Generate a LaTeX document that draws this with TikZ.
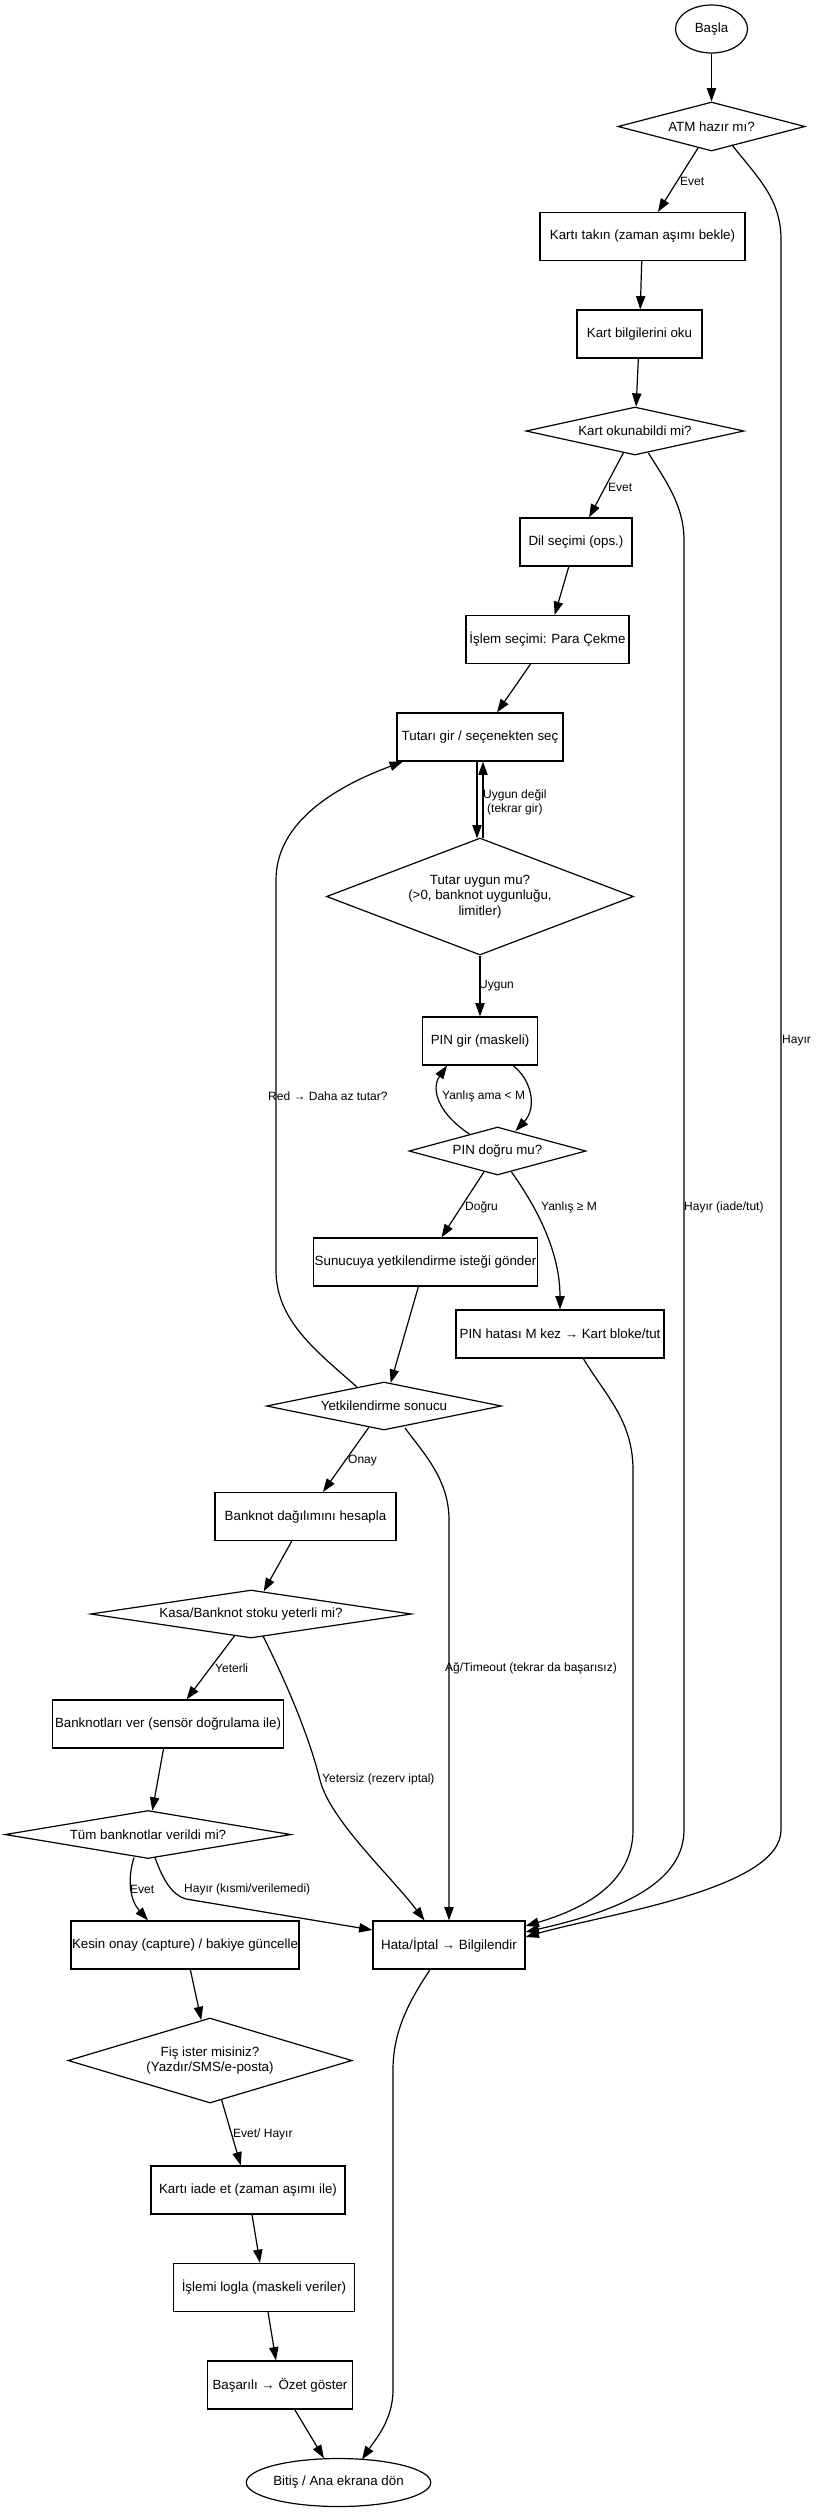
\documentclass[tikz,border=0pt]{standalone}
\usepackage{fontspec}
\setmainfont{Liberation Sans}
\usetikzlibrary{shapes.geometric,arrows.meta,calc}
\newcommand\ndfont{\fontsize{13.33}{15.5}\selectfont}
\newcommand\lbfont{\fontsize{12}{14}\selectfont}
\tikzset{
 box/.style={draw, line width=1.2pt, rectangle, inner sep=0pt, minimum height=48pt, font=\ndfont, align=center},
 dia/.style={draw, line width=1.2pt, diamond, inner sep=0pt, font=\ndfont, align=center},
 ell/.style={draw, line width=1.2pt, ellipse, inner sep=0pt, minimum height=48pt, font=\ndfont},
 arr/.style={line width=1.2pt, -{Triangle[length=13.3pt,width=9.3pt]}},
 lbl/.style={inner sep=0pt, font=\lbfont, anchor=west, align=center},
}
\begin{document}
\begin{tikzpicture}[x=1pt,y=-1pt]
\useasboundingbox (0,0) rectangle (817,2512);
% nodes
\node[ell, minimum width=72pt] (start) at (711.5,29) {Başla};
\node[dia, minimum width=187pt, minimum height=49pt, aspect=3.8] (atm) at (711.5,126.5) {ATM hazır mı?};
\node[box, minimum width=205pt] (takin) at (642.5,236.5) {Kartı takın (zaman aşımı bekle)};
\node[box, minimum width=125pt] (oku) at (639.5,334) {Kart bilgilerini oku};
\node[dia, minimum width=218pt, minimum height=48pt, aspect=4.5] (okun) at (635,431) {Kart okunabildi mi?};
\node[box, minimum width=112pt] (dil) at (576,542) {Dil seçimi (ops.)};
\node[box, minimum width=163pt] (islem) at (547.5,639.5) {İşlem seçimi: Para Çekme};
\node[box, minimum width=166pt] (tutar) at (480,737) {Tutarı gir / seçenekten seç};
\node[dia, minimum width=307pt, minimum height=117pt, aspect=2.6] (tuy) at (480,896.5) {Tutar uygun mu?\\(>0, banknot uygunluğu,\\limitler)};
\node[box, minimum width=115pt] (pin) at (480,1041) {PIN gir (maskeli)};
\node[dia, minimum width=177pt, minimum height=48pt, aspect=3.7] (pdm) at (497.5,1151) {PIN doğru mu?};
\node[box, minimum width=224pt] (sun) at (425.5,1262) {Sunucuya yetkilendirme isteği gönder};
\node[box, minimum width=208pt] (phat) at (560,1334) {PIN hatası M kez → Kart bloke/tut};
\node[dia, minimum width=235pt, minimum height=48pt, aspect=4.9] (yet) at (384,1406) {Yetkilendirme sonucu};
\node[box, minimum width=181pt] (bdh) at (305.5,1516.5) {Banknot dağılımını hesapla};
\node[dia, minimum width=321pt, minimum height=48pt, aspect=6.7] (kasa) at (251,1614) {Kasa/Banknot stoku yeterli mi?};
\node[box, minimum width=231pt] (bver) at (168,1724) {Banknotları ver (sensör doğrulama ile)};
\node[dia, minimum width=286pt, minimum height=48pt, aspect=6] (tum) at (148,1834.5) {Tüm banknotlar verildi mi?};
\node[box, minimum width=228pt] (kes) at (185,1945) {Kesin onay (capture) / bakiye güncelle};
\node[box, minimum width=152pt] (hata) at (449,1945) {Hata/İptal → Bilgilendir};
\node[dia, minimum width=284pt, minimum height=85pt, aspect=3.3] (fis) at (210,2060.5) {Fiş ister misiniz?\\(Yazdır/SMS/e-posta)};
\node[box, minimum width=194pt] (iade) at (248,2190) {Kartı iade et (zaman aşımı ile)};
\node[box, minimum width=181pt] (log) at (264,2287.5) {İşlemi logla (maskeli veriler)};
\node[box, minimum width=145pt] (bas) at (280,2385) {Başarılı → Özet göster};
\node[ell, minimum width=172pt] (bit) at (338.5,2482.5) {Bitiş / Ana ekrana dön};
% labels
\node[lbl] (l1) at (680,181) {Evet};
\node[lbl] (l2) at (608,487) {Evet};
\node[lbl] (l3) at (483,802) {Uygun değil\\(tekrar gir)};
\node[lbl] (l4) at (479,986) {Uygun};
\node[lbl] (l5) at (442,1096) {Yanlış ama < M};
\node[lbl] (l6) at (268,1096) {Red → Daha az tutar?};
\node[lbl] (l7) at (782,1041) {Hayır};
\node[lbl] (l8) at (684,1207) {Hayır (iade/tut)};
\node[lbl] (l9) at (465,1207) {Doğru};
\node[lbl] (l10) at (541,1207) {Yanlış ≥ M};
\node[lbl] (l11) at (348,1461) {Onay};
\node[lbl] (l12) at (215,1668) {Yeterli};
\node[lbl] (l13) at (445,1668) {Ağ/Timeout (tekrar da başarısız)};
\node[lbl] (l14) at (322,1779) {Yetersiz (rezerv iptal)};
\node[lbl] (l15) at (130,1889) {Evet};
\node[lbl] (l16) at (184,1889) {Hayır (kısmi/verilemedi)};
\node[lbl] (l17) at (233,2134) {Evet/ Hayır};
% edges
\draw[arr] (start) -- (atm);
\draw[arr] (atm) -- (takin);
\draw[arr] (takin) -- (oku);
\draw[arr] (oku) -- (okun);
\draw[arr] (okun) -- (dil);
\draw[arr] (dil) -- (islem);
\draw[arr] (islem) -- (tutar);
\draw[arr] ($(tutar.south)+(-3,0)$) -- ($(tuy.north)+(-3,1)$);
\draw[arr] ($(tuy.north)+(3,1)$) -- ($(tutar.south)+(3,0)$);
\draw[arr] (tuy) -- (pin);
\draw[arr] ($(pin.south)+(33,0)$) .. controls (532,1080) and (537,1108) .. ($(pdm)+(18,-20)$);
\draw[arr] ($(pdm)+(-28,-17)$) .. controls (440,1115) and (430,1090) .. ($(pin.south)+(-33,0)$);
\draw[arr] (pdm) -- (sun);
\draw[arr] ($(pdm)+(14,21)$) .. controls (535,1205) and (560,1250) .. (phat.north);
\draw[arr] (sun) -- (yet);
\draw[arr] ($(yet)+(-27,-19)$) .. controls (315,1350) and (276,1320) .. (276,1270) -- (276,880) .. controls (276,820) and (340,785) .. ($(tutar.south west)+(6.5,0)$);
\draw[arr] (yet) -- (bdh);
\draw[arr] ($(yet)+(21,22)$) .. controls (425,1455) and (449,1480) .. (449,1520) -- (hata.north);
\draw[arr] (bdh) -- (kasa);
\draw[arr] (kasa) -- (bver);
\draw[arr] ($(kasa)+(12,22)$) .. controls (290,1690) and (310,1740) .. (320,1780) .. controls (330,1820) and (390,1875) .. ($(hata.north)+(-24.5,0)$);
\draw[arr] (bver) -- (tum);
\draw[arr] ($(tum)+(-14,23)$) .. controls (127,1880) and (130,1900) .. ($(kes.north)+(-37,0)$);
\draw[arr] ($(tum)+(7,23)$) .. controls (163,1880) and (172,1895) .. (186,1899) -- ($(hata.west)+(0,-15)$);
\draw[arr] (kes) -- (fis);
\draw[arr] (fis) -- (iade);
\draw[arr] (iade) -- (log);
\draw[arr] (log) -- (bas);
\draw[arr] (bas) -- (bit);
\draw[arr] ($(hata.south)+(-19,0)$) .. controls (410,2000) and (393,2030) .. (393,2070) -- (393,2390) .. controls (393,2420) and (375,2440) .. ($(bit)+(23.5,-23)$);
\draw[arr] ($(atm)+(20.5,18.5)$) .. controls (760,180) and (781,200) .. (781,240) -- (781,1830) .. controls (781,1890) and (600,1915) .. ($(hata.east)+(0,-8)$);
\draw[arr] ($(okun)+(13.4,22)$) .. controls (665,480) and (684,505) .. (684,540) -- (684,1830) .. controls (684,1890) and (600,1915) .. ($(hata.east)+(0,-13)$);
\draw[arr] ($(phat)+(23,24)$) .. controls (605,1395) and (633,1420) .. (633,1470) -- (633,1830) .. controls (633,1885) and (580,1910) .. ($(hata.east)+(0,-19)$);
\end{tikzpicture}
\end{document}
